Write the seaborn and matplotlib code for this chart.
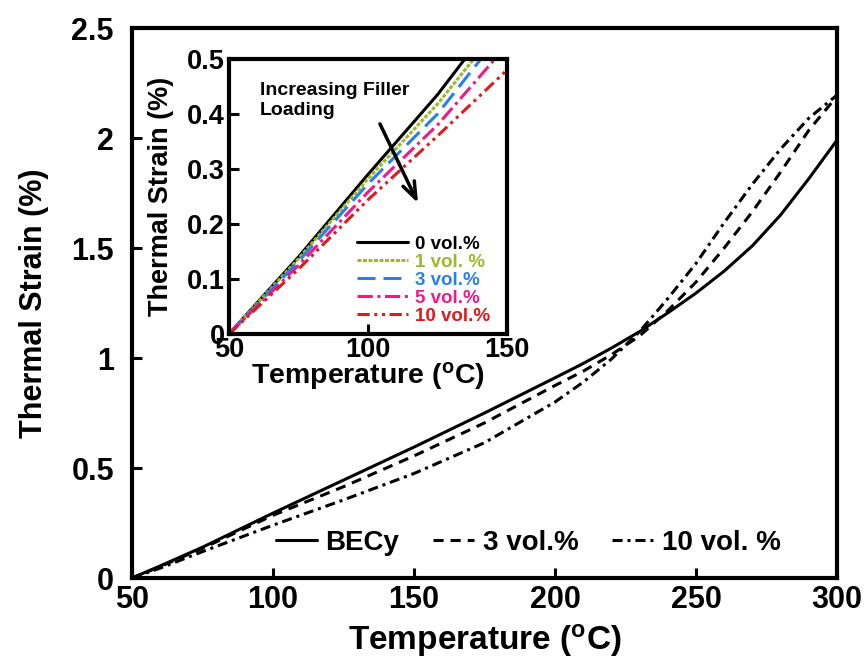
import matplotlib
matplotlib.use("Agg")
import matplotlib.pyplot as plt
import seaborn as sns
import pandas as pd

# ---- main plot data: thermal strain (%) vs temperature (degC) ----
temp_main = [50, 60, 75, 100, 125, 150, 175, 200, 210, 220, 230, 240, 250, 260, 270, 280, 290, 300]
strain_becy = [0, 0.055, 0.14, 0.295, 0.445, 0.595, 0.75, 0.91, 0.975, 1.045, 1.12, 1.205, 1.295, 1.395, 1.51, 1.65, 1.815, 1.99]
strain_3vol = [0, 0.052, 0.135, 0.285, 0.415, 0.555, 0.705, 0.875, 0.94, 1.015, 1.10, 1.215, 1.345, 1.50, 1.665, 1.845, 2.035, 2.19]
strain_10vol = [0, 0.045, 0.12, 0.24, 0.355, 0.475, 0.615, 0.80, 0.89, 0.995, 1.12, 1.27, 1.43, 1.615, 1.79, 1.95, 2.09, 2.195]
main_labels = ["BECy", "3 vol.%", "10 vol. %"]

# ---- inset data: low-temperature region ----
temp_inset = [50, 75, 100, 125, 150]
inset_0 = [0, 0.14, 0.29, 0.435, 0.60]
inset_1 = [0, 0.137, 0.282, 0.418, 0.575]
inset_3 = [0, 0.132, 0.273, 0.40, 0.56]
inset_5 = [0, 0.125, 0.258, 0.38, 0.525]
inset_10 = [0, 0.118, 0.244, 0.36, 0.48]
inset_labels = ["0 vol.%", "1 vol. %", "3 vol.%", "5 vol.%", "10 vol.%"]
inset_colors = ["#000000", "#9aba2c", "#2a7ef2", "#ee1a8a", "#e01a1a"]

main_xticks = [50, 100, 150, 200, 250, 300]
main_yticks = [0, 0.5, 1, 1.5, 2, 2.5]
main_yticklabels = ["0", "0.5", "1", "1.5", "2", "2.5"]
inset_xticks = [50, 100, 150]
inset_yticks = [0, 0.1, 0.2, 0.3, 0.4, 0.5]
inset_yticklabels = ["0", "0.1", "0.2", "0.3", "0.4", "0.5"]

sns.set_style("ticks")
plt.rcParams["font.family"] = ["Liberation Sans", "DejaVu Sans"]
plt.rcParams["font.weight"] = "bold"
plt.rcParams["axes.labelweight"] = "bold"
plt.rcParams["mathtext.fontset"] = "custom"
plt.rcParams["mathtext.rm"] = "Liberation Sans:bold"
plt.rcParams["mathtext.default"] = "rm"
for key in ["text.color", "axes.labelcolor", "xtick.color", "ytick.color", "axes.edgecolor"]:
    plt.rcParams[key] = "black"

fig = plt.figure(figsize=(8.65, 6.59), dpi=100)
ax = fig.add_axes([0.1526, 0.1229, 0.815, 0.8346])
axin = fig.add_axes([0.2647, 0.4932, 0.3214, 0.4173])

# ---- main curves ----
main_df = pd.DataFrame({
    "T": temp_main * 3,
    "S": strain_becy + strain_3vol + strain_10vol,
    "series": sum([[lab] * len(temp_main) for lab in main_labels], []),
})
main_styles = {
    "BECy": "-",
    "3 vol.%": (0, (3.3, 2.3)),
    "10 vol. %": (0, (3.3, 1.6, 1.0, 1.6)),
}
for lab in main_labels:
    sub = main_df[main_df["series"] == lab]
    sns.lineplot(data=sub, x="T", y="S", ax=ax, color="black", lw=2.2,
                 linestyle=main_styles[lab], label=lab, sort=False,
                 estimator=None, errorbar=None)

ax.set_xlim(50, 300)
ax.set_ylim(0, 2.5)
ax.set_xticks(main_xticks)
ax.set_xticklabels([str(t) for t in main_xticks])
ax.set_yticks(main_yticks)
ax.set_yticklabels(main_yticklabels)
ax.tick_params(axis="both", direction="in", length=7, width=2.2, labelsize=22)
ax.tick_params(axis="y", pad=13)
ax.tick_params(axis="x", pad=5)
for sp in ax.spines.values():
    sp.set_visible(True)
    sp.set_linewidth(3)
ax.set_xlabel("Temperature ($^{o}$C)", fontsize=24, fontweight="bold", labelpad=5)
ax.set_ylabel("Thermal Strain (%)", fontsize=22, fontweight="bold", labelpad=16)

ax.legend(loc="center", bbox_to_anchor=(0.562, 0.064), ncol=3, frameon=False,
          prop={"weight": "bold", "size": 20},
          handlelength=1.5, columnspacing=1.2, handletextpad=0.3)

# ---- inset curves ----
inset_series = [inset_0, inset_1, inset_3, inset_5, inset_10]
inset_styles = [
    "-",
    (0, (1.3, 0.5)),
    (0, (5.9, 2.6)),
    (0, (5.0, 1.5, 1.0, 1.5)),
    (0, (4.0, 1.5, 1.0, 1.5, 1.0, 1.5)),
]
for vals, lab, col, ls in zip(inset_series, inset_labels, inset_colors, inset_styles):
    sns.lineplot(x=temp_inset, y=vals, ax=axin, color=col, lw=2.2, linestyle=ls,
                 label=lab, sort=False, estimator=None, errorbar=None)

axin.set_xlim(50, 150)
axin.set_ylim(0, 0.5)
axin.set_xticks(inset_xticks)
axin.set_xticklabels([str(t) for t in inset_xticks])
axin.set_yticks(inset_yticks)
axin.set_yticklabels(inset_yticklabels)
axin.tick_params(axis="both", direction="in", length=7, width=2.2, labelsize=19.5)
axin.tick_params(axis="y", pad=3)
axin.tick_params(axis="x", pad=2)
for sp in axin.spines.values():
    sp.set_visible(True)
    sp.set_linewidth(3)
axin.set_xlabel("Temperature ($^{o}$C)", fontsize=20.5, fontweight="bold", labelpad=-2)
axin.set_ylabel("Thermal Strain (%)", fontsize=19.5, fontweight="bold", labelpad=9)

axin.legend(loc="lower right", bbox_to_anchor=(0.985, -0.015), frameon=False,
            prop={"weight": "bold", "size": 13.5}, labelcolor="linecolor",
            handlelength=2.7, handletextpad=0.35, labelspacing=0.05, borderpad=0.2)

axin.text(61.2, 0.458, "Increasing Filler\nLoading", ha="left", va="top",
          fontsize=14, fontweight="bold", linespacing=1.25)
axin.annotate("", xy=(118, 0.238), xytext=(104.3, 0.382),
              arrowprops=dict(arrowstyle="->,head_length=1.2,head_width=0.45",
                              lw=2.5, color="black", shrinkA=0, shrinkB=0))

fig.savefig("out.png", dpi=100)
